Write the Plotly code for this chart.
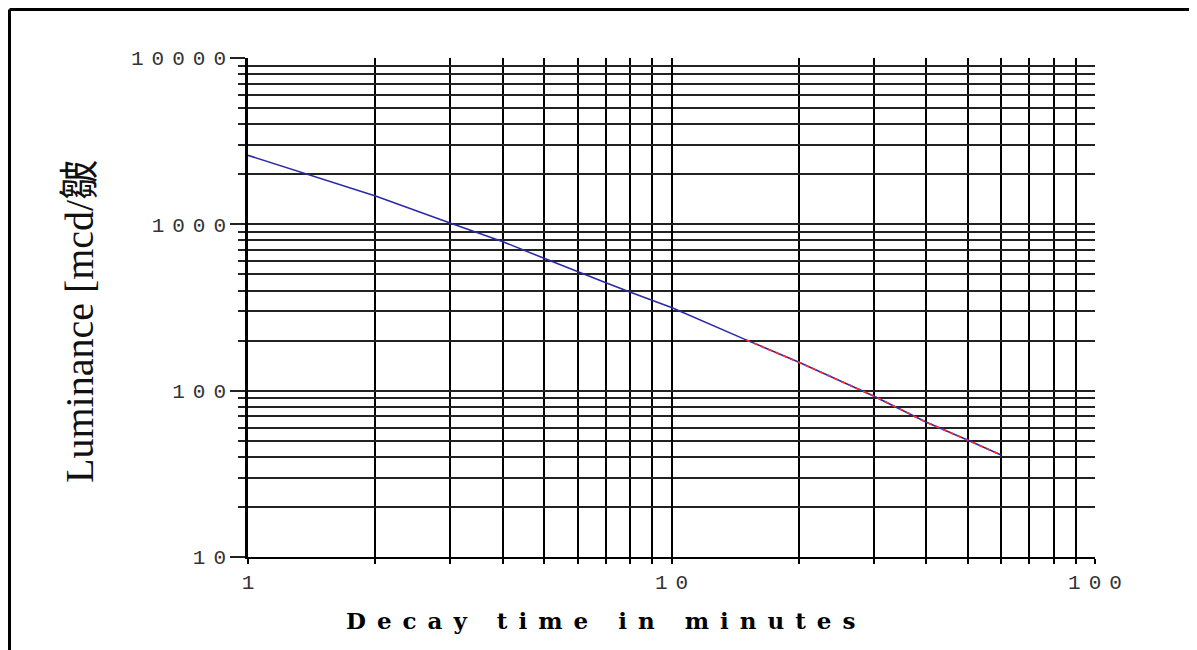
import plotly.graph_objects as go

# ---- data ----
time_min = [1, 1.5, 2, 3, 4, 5, 6, 7, 8, 10, 15, 20, 30, 40, 50, 60]
luminance = [2600, 1880, 1480, 1020, 786, 625, 518, 445, 390, 316, 202, 148, 93, 64.5, 50.5, 41]

fit_time = [15, 20, 30, 40, 50, 60]
fit_lum = [202, 148, 93, 64.5, 50.5, 41]

x_major = [1, 10, 100]
x_major_text = ["1", "10", "100"]
x_minor = [2, 3, 4, 5, 6, 7, 8, 9, 20, 30, 40, 50, 60, 70, 80, 90]

y_major = [10, 100, 1000, 10000]
y_major_text = ["10", "100", "1000", "10000"]
y_minor = [20, 30, 40, 50, 60, 70, 80, 90,
           200, 300, 400, 500, 600, 700, 800, 900,
           2000, 3000, 4000, 5000, 6000, 7000, 8000, 9000]

x_title = "Decay time in minutes"
y_title = "Luminance [mcd/皺"

# figure geometry (the page adds an 8px body margin)
W, H = 1189, 642
L, R, T, B = 240, 102, 50, 93
PW, PH = W - L - R, H - T - B


def px(x):
    return (x - L) / PW


def py(y):
    return (H - B - y) / PH


def spaced(s, sp):
    # letter spacing on all but the last character so alignment stays correct
    return f'<span style="letter-spacing:{sp}px">{s[:-1]}</span>{s[-1]}'


fig = go.Figure()
fig.add_trace(go.Scatter(x=time_min, y=luminance, mode="lines",
                         line=dict(color="#2a2aa8", width=1.6),
                         showlegend=False, hoverinfo="skip"))
fig.add_trace(go.Scatter(x=fit_time, y=fit_lum, mode="lines",
                         line=dict(color="#ff2a2a", width=1.7, dash="4px,4px"),
                         showlegend=False, hoverinfo="skip"))

tick_font = dict(family="Liberation Mono", size=21, color="#333333")

fig.update_xaxes(
    type="log", range=[0, 2],
    tickmode="array", tickvals=x_major,
    ticktext=[spaced(t, 8) if len(t) > 1 else t for t in x_major_text],
    ticks="outside", ticklen=5, tickwidth=2, tickcolor="black",
    showgrid=True, gridcolor="black", gridwidth=2,
    showline=True, linecolor="black", linewidth=2,
    zeroline=False, tickfont=tick_font,
    minor=dict(tickmode="array", tickvals=x_minor, ticks="outside", ticklen=5,
               tickwidth=2, tickcolor="black", showgrid=True,
               gridcolor="black", gridwidth=2),
)

fig.update_yaxes(
    type="log", range=[1, 4],
    tickmode="array", tickvals=y_major,
    ticktext=[spaced(t, 8) for t in y_major_text],
    ticks="outside", ticklen=15, tickwidth=1.5, tickcolor="#222222",
    showgrid=True, gridcolor="#222222", gridwidth=1.5,
    showline=True, linecolor="black", linewidth=2.5,
    zeroline=False, tickfont=tick_font,
    minor=dict(tickmode="array", tickvals=y_minor, ticks="outside", ticklen=7,
               tickwidth=1.5, tickcolor="#222222", showgrid=True,
               gridcolor="#222222", gridwidth=1.5),
)

# axis titles as annotations (placed where the original has them)
fig.add_annotation(text=spaced(x_title, 11), xref="paper", yref="paper",
                   x=px(592), y=py(612), xanchor="center", yanchor="middle",
                   showarrow=False,
                   font=dict(family="DejaVu Serif", size=23, color="black",
                             weight="bold"))
fig.add_annotation(text=y_title, xref="paper", yref="paper",
                   x=px(71), y=py(314), xanchor="center", yanchor="middle",
                   textangle=-90, showarrow=False,
                   font=dict(family="Liberation Serif, Noto Sans CJK SC",
                             size=40, color="#111111"))

# outer frame (top and left edges visible, the rest runs off the image)
fig.add_shape(type="line", xref="paper", yref="paper",
              x0=px(1.5), x1=px(1400), y0=py(1.5), y1=py(1.5),
              line=dict(color="black", width=3))
fig.add_shape(type="line", xref="paper", yref="paper",
              x0=px(1.5), x1=px(1.5), y0=py(1.5), y1=py(900),
              line=dict(color="black", width=3))

fig.update_layout(
    width=W, height=H,
    margin=dict(l=L, r=R, t=T, b=B),
    paper_bgcolor="white", plot_bgcolor="white",
)

fig.write_html("out.html")
